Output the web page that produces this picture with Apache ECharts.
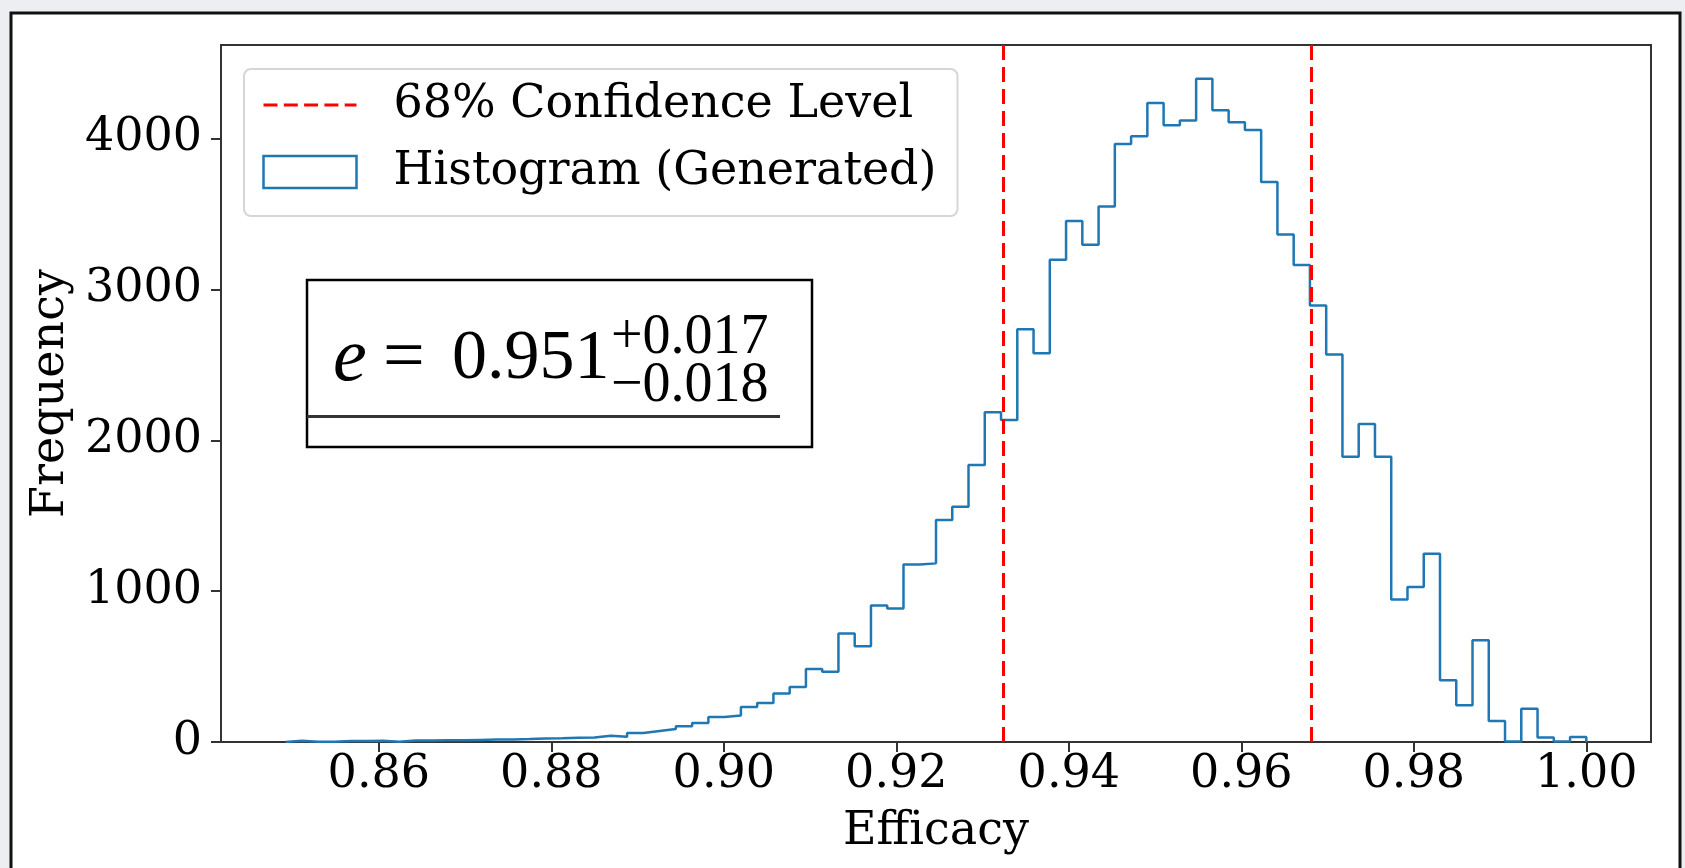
<!DOCTYPE html>
<html>
<head>
<meta charset="utf-8">
<script src="https://cdn.jsdelivr.net/npm/echarts@6/dist/echarts.min.js"></script>
<style>
  html, body { margin: 0; padding: 0; background: #eceef2; }
  #chart { width: 1685px; height: 868px; }
</style>
</head>
<body>
<div id="chart"></div>
<script>
// Histogram of generated efficacy values (80 equal-width bins)
const binStart = 0.8492;
const binEnd = 1.0;
const counts = [
  8, 2, 1, 6, 7, 8, 2, 10, 10, 11, 12, 14, 16, 17, 20, 24, 25, 28, 30, 42,
  35, 60, 73, 86, 104, 126, 166, 175, 232, 259, 321, 365, 484, 465, 719, 635, 905, 885, 1177, 1184,
  1471, 1559, 1836, 2185, 2135, 2736, 2577, 3196, 3453, 3296, 3550, 3964, 4015, 4236, 4088, 4119, 4397, 4187, 4108, 4057,
  3712, 3364, 3161, 2893, 2568, 1891, 2108, 1891, 945, 1027, 1248, 409, 243, 675, 140, 3, 221, 29, 3, 33
];

// 68% confidence interval bounds and the quoted estimate
const confidenceBounds = [0.9324, 0.9681];
const estimate = 0.951;
const errUp = 0.017;
const errDown = 0.018;

// Axis ranges and tick labels
const xRange = [0.8417, 1.0075];
const yRange = [0, 4620];
const xTicks = [0.86, 0.88, 0.90, 0.92, 0.94, 0.96, 0.98, 1.00];
const yTicks = [0, 1000, 2000, 3000, 4000];

// Step outline of the histogram (like histtype="step")
const binWidth = (binEnd - binStart) / counts.length;
const outline = [[binStart, 0]];
counts.forEach((c, i) => {
  const a = binStart + i * binWidth;
  outline.push([a, c], [a + binWidth, c]);
});
outline.push([binEnd, 0]);

const SERIF = 'DejaVu Serif';
const MATH = 'Liberation Serif';
const RED = '#ff0000';
const BLUE = '#1f77b4';
const AXIS = '#333333';

const chart = echarts.init(document.getElementById('chart'), null, { renderer: 'canvas' });

chart.setOption({
  animation: false,
  backgroundColor: 'transparent',
  grid: {
    left: 221, right: 34, top: 45, bottom: 126,
    show: true, borderColor: AXIS, borderWidth: 2,
    backgroundColor: '#ffffff',
    outerBoundsMode: 'none'
  },
  xAxis: {
    type: 'value',
    min: xRange[0], max: xRange[1],
    name: 'Efficacy',
    nameLocation: 'middle',
    nameGap: 67,
    nameTextStyle: { fontFamily: SERIF, fontSize: 46, color: '#000' },
    axisLine: { show: true, lineStyle: { color: AXIS, width: 2 } },
    splitLine: { show: false },
    axisTick: { show: true, length: 10, lineStyle: { color: AXIS, width: 2 }, customValues: xTicks },
    axisLabel: {
      customValues: xTicks, margin: 10,
      fontFamily: SERIF, fontSize: 46, color: '#000',
      formatter: v => v.toFixed(2)
    }
  },
  yAxis: {
    type: 'value',
    min: yRange[0], max: yRange[1],
    name: 'Frequency',
    nameLocation: 'middle',
    nameGap: 127,
    nameRotate: 90,
    nameTextStyle: { fontFamily: SERIF, fontSize: 46, color: '#000' },
    axisLine: { show: true, lineStyle: { color: AXIS, width: 2 } },
    splitLine: { show: false },
    axisTick: { show: true, length: 10, lineStyle: { color: AXIS, width: 2 }, customValues: yTicks },
    axisLabel: {
      customValues: yTicks, margin: 19,
      fontFamily: SERIF, fontSize: 46, color: '#000',
      formatter: v => String(v)
    }
  },
  legend: {
    orient: 'vertical',
    left: 244, top: 69,
    padding: [8, 21, 16, 18],
    itemGap: 11,
    itemWidth: 93, itemHeight: 32,
    backgroundColor: 'rgba(255,255,255,0.85)',
    borderColor: '#d6d6d6', borderWidth: 2, borderRadius: 7,
    textStyle: { fontFamily: SERIF, fontSize: 46, color: '#000', lineHeight: 56, padding: [0, 0, 0, 32] },
    data: [
      { name: '68% Confidence Level', itemStyle: { opacity: 0 }, lineStyle: { color: RED, width: 3, type: [14, 6.3] } },
      { name: 'Histogram (Generated)', icon: 'rect', itemStyle: { color: '#ffffff', borderColor: BLUE, borderWidth: 2.5 } }
    ]
  },
  graphic: [
    // outer figure frame
    { type: 'rect', z: -100, silent: true,
      shape: { x: 11, y: 13, width: 1669, height: 900 },
      style: { fill: '#ffffff', stroke: '#111111', lineWidth: 3 } },
    // annotation box with the estimate
    { type: 'rect', z: 50, silent: true,
      shape: { x: 307, y: 280, width: 505, height: 167 },
      style: { fill: '#ffffff', stroke: '#000000', lineWidth: 2.5 } },
    { type: 'line', z: 51, silent: true,
      shape: { x1: 307, y1: 416.5, x2: 780, y2: 416.5 },
      style: { stroke: '#333333', lineWidth: 3 } },
    { type: 'text', z: 52, silent: true, x: 333, y: 360,
      style: { text: 'e', font: 'italic 76px "' + MATH + '"', fill: '#000', verticalAlign: 'middle', align: 'left' } },
    { type: 'text', z: 52, silent: true, x: 383, y: 360,
      style: { text: '=', font: '74px "' + MATH + '"', fill: '#000', verticalAlign: 'middle', align: 'left' } },
    { type: 'text', z: 52, silent: true, x: 452, y: 360,
      style: { text: estimate.toFixed(3), font: '70px "' + MATH + '"', fill: '#000', verticalAlign: 'middle', align: 'left' } },
    { type: 'text', z: 52, silent: true, x: 611, y: 338,
      style: { text: '+' + errUp.toFixed(3), font: '56px "' + MATH + '"', fill: '#000', verticalAlign: 'middle', align: 'left' } },
    { type: 'text', z: 52, silent: true, x: 611, y: 386,
      style: { text: '\u2212' + errDown.toFixed(3), font: '56px "' + MATH + '"', fill: '#000', verticalAlign: 'middle', align: 'left' } }
  ],
  series: [
    {
      name: 'Histogram (Generated)',
      type: 'line',
      data: outline,
      symbol: 'none',
      z: 2,
      lineStyle: { color: BLUE, width: 2.5 },
      itemStyle: { color: BLUE }
    },
    {
      name: '68% Confidence Level',
      type: 'line',
      data: [],
      symbol: 'none',
      z: 3,
      lineStyle: { color: RED, width: 3, type: [15, 7] },
      itemStyle: { color: RED },
      markLine: {
        silent: true,
        symbol: 'none',
        precision: 4,
        label: { show: false },
        lineStyle: { color: RED, width: 3, type: [15, 7] },
        data: confidenceBounds.map(v => ({ xAxis: v }))
      }
    }
  ]
});
</script>
</body>
</html>
